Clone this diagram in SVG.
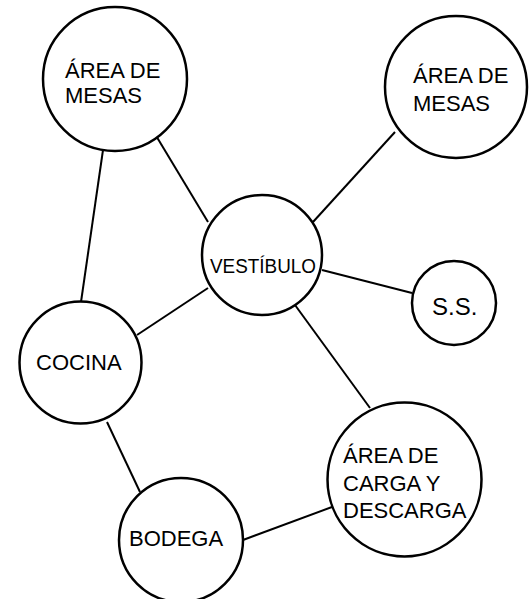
<svg xmlns="http://www.w3.org/2000/svg" width="531" height="599" viewBox="0 0 531 599">
<style>
.n{fill:#fff;stroke:#000;stroke-width:2.5}
.e{stroke:#000;stroke-width:2;fill:none}
text{font-family:"Liberation Sans",Arial,sans-serif;font-size:22px;fill:#000}
</style>
<rect width="531" height="599" fill="#fff"/>
<g id="connectors">
<line class="e" x1="103" y1="150" x2="81" y2="302"/>
<line class="e" x1="155" y1="134" x2="208" y2="222"/>
<line class="e" x1="395" y1="132" x2="313" y2="222"/>
<line class="e" x1="322" y1="270" x2="412" y2="293"/>
<line class="e" x1="208" y1="288" x2="137" y2="335"/>
<line class="e" x1="295" y1="305" x2="370" y2="408"/>
<line class="e" x1="107" y1="422" x2="140" y2="492"/>
<line class="e" x1="243" y1="540" x2="332" y2="507"/>
</g>
<g id="mesas1">
<circle class="n" cx="115" cy="79" r="72"/>
<text x="65" y="78">ÁREA DE</text>
<text x="65" y="103">MESAS</text>
</g>
<g id="mesas2">
<circle class="n" cx="456" cy="87" r="71"/>
<text x="413" y="83">ÁREA DE</text>
<text x="413" y="111">MESAS</text>
</g>
<g id="vestibulo">
<circle class="n" cx="262" cy="255" r="60"/>
<text x="210" y="273" font-size="20" textLength="106" lengthAdjust="spacingAndGlyphs" style="font-size:20px">VESTÍBULO</text>
</g>
<g id="ss">
<circle class="n" cx="454" cy="303" r="42"/>
<text x="432" y="315" style="font-size:24px">S.S.</text>
</g>
<g id="cocina">
<circle class="n" cx="80.5" cy="362.5" r="61"/>
<text x="36" y="370">COCINA</text>
</g>
<g id="carga">
<circle class="n" cx="404.5" cy="479.5" r="77"/>
<text x="343" y="463">ÁREA DE</text>
<text x="343" y="491">CARGA Y</text>
<text x="343" y="518">DESCARGA</text>
</g>
<g id="bodega">
<circle class="n" cx="181" cy="540" r="62"/>
<text x="129" y="546">BODEGA</text>
</g>
</svg>
